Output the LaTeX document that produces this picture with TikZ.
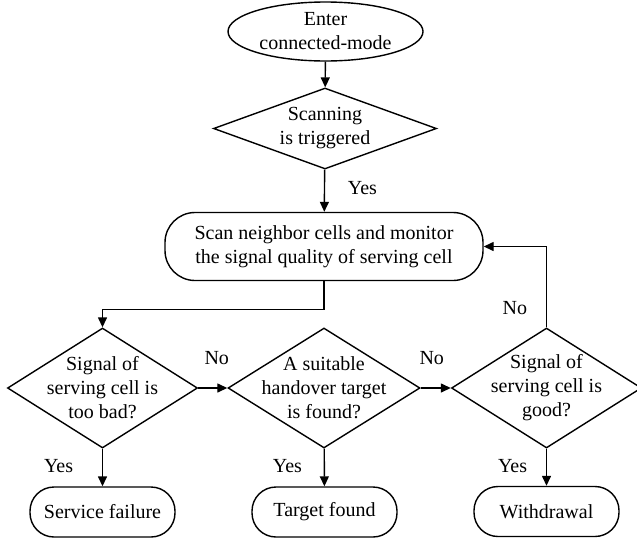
\documentclass[tikz,border=0pt]{standalone}
\usepackage{fontspec}
\setmainfont{Liberation Serif}
\usetikzlibrary{positioning,shapes,arrows.meta}

\begin{document}
\begin{tikzpicture}[x=0.5pt,y=-0.5pt,
  font=\fontsize{10}{12}\selectfont,
  line width=0.7pt,
  arr/.style={-{Triangle[length=5pt,width=4.5pt]}},
  txt/.style={align=center,inner sep=0pt},
  startnode/.style={ellipse,draw,minimum width=97.5pt,minimum height=29.5pt,inner sep=0pt},
  decision/.style={diamond,draw,inner sep=0pt,minimum width=95pt,minimum height=60pt},
  process/.style={rectangle,draw,rounded corners=15pt,minimum width=159pt,minimum height=34pt,align=center},
  terminal/.style={rectangle,draw,rounded corners=12pt,minimum width=72.5pt,minimum height=25pt}]
\useasboundingbox (0,0) rectangle (637,542);

\node[startnode,label={[txt]center:Enter\\connected-mode}] (enter) at (325.5,31.5) {};
\node[decision,minimum width=111.5pt,minimum height=40.5pt,label={[txt]center:Scanning\\is triggered}] (trig) at (325,128.5) {};
\node[process] (scan) at (324,246.5) {Scan neighbor cells and monitor\\the signal quality of serving cell};

\node[decision,label={[txt]center:Signal of\\serving cell is\\too bad?}] (bad) at (102.5,388) {};
\node[decision,minimum width=96pt,label={[txt]center:A suitable\\handover target\\is found?}] (suit) at (324,388) {};
\node[decision,label={[txt]center:Signal of\\serving cell is\\good?}] (good) at (546.5,388) {};

\node[terminal] (fail) at (102.5,512) {Service failure};
\node[terminal] (found) at (324.5,512) {Target found};
\node[terminal] (wd) at (546.5,511.5) {Withdrawal};

\draw[arr] (enter) -- (trig);
\draw[arr] (trig) -- node[right=8pt,pos=0.43]{Yes} (scan);
\draw[arr] (scan.south) -- ++(0,28) -| (bad.north);
\draw[arr] (bad) -- node[above=8pt,xshift=2pt]{No} (suit);
\draw[arr] (suit) -- node[above=8pt,xshift=-2pt]{No} (good);
\draw[arr] (good.north) |- node[left=6pt,pos=0.12]{No} (scan.east);
\draw[arr] (bad) -- node[left=11pt,pos=0.46]{Yes} (fail);
\draw[arr] (suit) -- node[left=7.5pt,pos=0.46]{Yes} (found);
\draw[arr] (good) -- node[left=6pt,pos=0.46]{Yes} (wd);
\end{tikzpicture}
\end{document}
